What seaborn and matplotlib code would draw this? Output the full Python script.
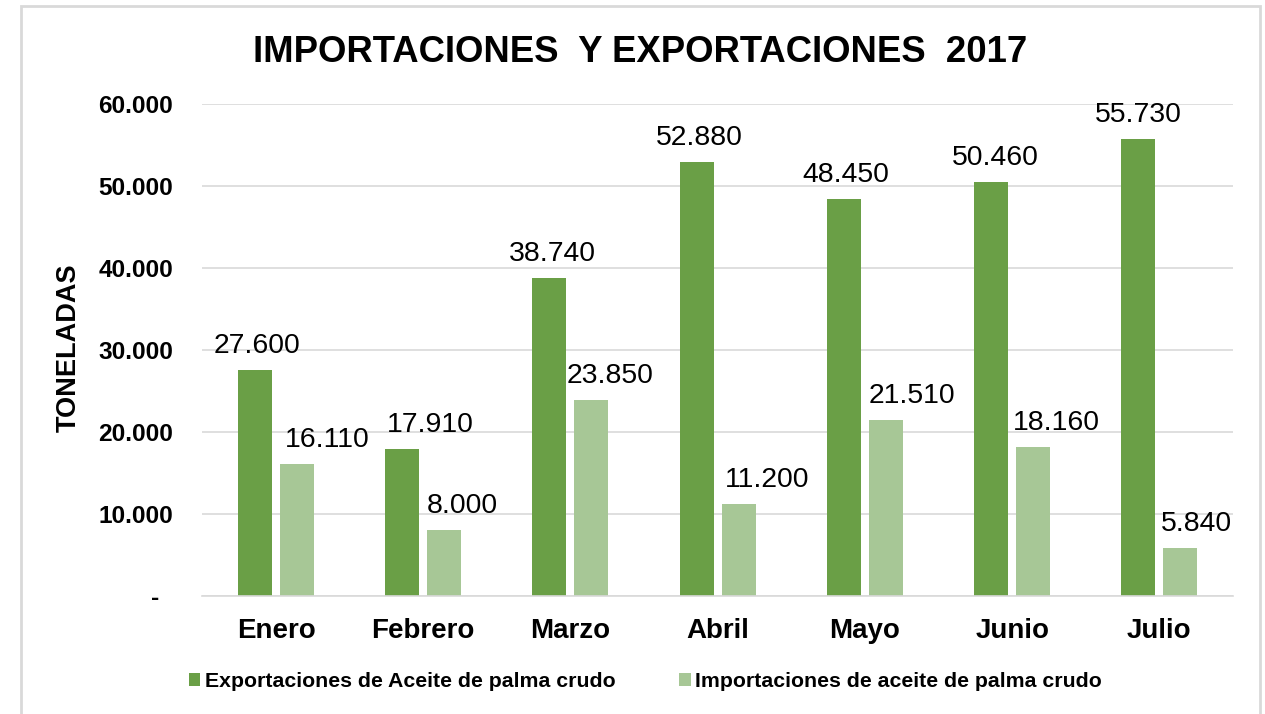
import pandas as pd
import matplotlib.pyplot as plt
import seaborn as sns
from matplotlib.patches import Rectangle, Patch
from matplotlib.ticker import FuncFormatter, MultipleLocator

# ── Data ───────────────────────────────────────────────────
meses = ['Enero', 'Febrero', 'Marzo', 'Abril', 'Mayo', 'Junio', 'Julio']
exportaciones = [27600, 17910, 38740, 52880, 48450, 50460, 55730]
importaciones = [16110, 8000, 23850, 11200, 21510, 18160, 5840]
series = ['Exportaciones de Aceite de palma crudo',
          'Importaciones de aceite de palma crudo']

df = pd.DataFrame({
    'Mes': meses * 2,
    'Toneladas': exportaciones + importaciones,
    'Serie': [series[0]] * len(meses) + [series[1]] * len(meses),
})

# label nudges (pixels), as placed by hand in the original
dx_export = [2, 28, 3, 3, 2, 4, 0]
dx_import = [30, 18, 19, 28, 26, 23, 16]

colors = ['#6A9F46', '#A7C796']


def miles(v):
    return f"{int(round(v)):,}".replace(',', '.')


# ── Style ──────────────────────────────────────────────────
sns.set_style('white')
plt.rcParams['font.family'] = ['Liberation Sans', 'DejaVu Sans']
plt.rcParams['text.color'] = 'black'
plt.rcParams['axes.labelcolor'] = 'black'
plt.rcParams['xtick.color'] = 'black'
plt.rcParams['ytick.color'] = 'black'

fig = plt.figure(figsize=(12.65, 7.14), dpi=100)
ax = fig.add_axes([0.160, 0.1653, 0.8147, 0.689])

sns.barplot(data=df, x='Mes', y='Toneladas', hue='Serie', palette=colors,
            width=0.57, gap=0.19, saturation=1, ax=ax, legend=False,
            edgecolor='none')

ax.set_ylim(0, 60000)
ax.yaxis.set_major_locator(MultipleLocator(10000))
ax.yaxis.set_major_formatter(FuncFormatter(lambda v, p: '-  ' if v == 0 else miles(v)))
ax.grid(axis='y', color='#D9D9D9', linewidth=1.2)
ax.set_axisbelow(True)
for s in ['top', 'right', 'left']:
    ax.spines[s].set_visible(False)
ax.spines['bottom'].set_color('#D9D9D9')
ax.spines['bottom'].set_linewidth(1.2)
ax.tick_params(axis='both', length=0)
ax.tick_params(axis='y', pad=21, labelsize=17.6)
ax.tick_params(axis='x', pad=16, labelsize=20)
for t in ax.get_yticklabels() + ax.get_xticklabels():
    t.set_fontweight('bold')

ax.set_xlabel('')
ax.set_ylabel('TONELADAS', fontsize=19.5, fontweight='bold')
ax.yaxis.set_label_coords(-0.117, 0.504)

# ── Data labels ────────────────────────────────────────────
for cont, vals, offs in zip(ax.containers, [exportaciones, importaciones],
                            [dx_export, dx_import]):
    for bar, v, dx in zip(cont, vals, offs):
        ax.annotate(miles(v), (bar.get_x() + bar.get_width() / 2, bar.get_height()),
                    xytext=(dx, 17), textcoords='offset pixels',
                    ha='center', va='baseline', fontsize=20.4, color='black')

# ── Title / legend / frame ────────────────────────────────
fig.text(0.506, 0.913, 'IMPORTACIONES  Y EXPORTACIONES  2017',
         ha='center', va='baseline', fontsize=26.3, fontweight='bold')

handles = [Patch(facecolor=c, edgecolor='none') for c in colors]
fig.legend(handles, series, loc='center', bbox_to_anchor=(0.510, 0.045),
           ncol=2, frameon=False, handlelength=0.55, handleheight=0.55,
           handletextpad=0.2, columnspacing=3.0,
           prop={'size': 15.3, 'weight': 'bold'})

fig.patches.append(Rectangle((21 / 1265, -0.02), 1239 / 1265, 1 - 6 / 714 + 0.02,
                             transform=fig.transFigure, fill=False,
                             edgecolor='#D9D9D9', linewidth=2))

plt.savefig('out.png', dpi=100)
plt.close()
